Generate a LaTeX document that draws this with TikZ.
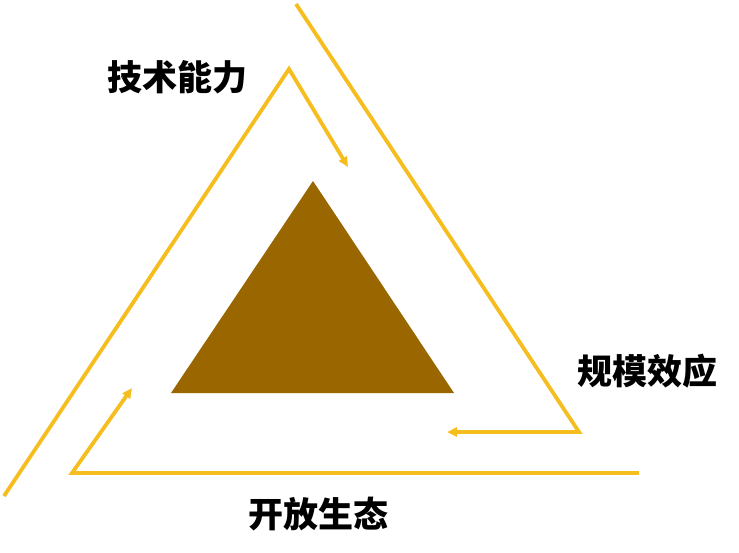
\documentclass[tikz,border=0pt]{standalone}
\usepackage{fontspec}
\newfontfamily\cjk{Noto Sans CJK SC}[BoldFont={Noto Sans CJK SC Black}]
\usetikzlibrary{arrows.meta}
\definecolor{gold}{HTML}{F5BE1E}
\definecolor{bronze}{HTML}{996600}
\tikzset{
  flow/.style={gold, line width=3.8pt, line join=miter},
  label/.style={font=\cjk\bfseries\fontsize{35}{40}\selectfont, text=black, inner sep=0pt}
}

\begin{document}
\begin{tikzpicture}[x=1pt, y=-1pt, >={Triangle[length=10pt,width=9pt]}]
    \useasboundingbox (0,0) rectangle (739,552);

    % Corner points of the three arrows
    \coordinate (techStart) at (4,496);
    \coordinate (techTop) at (289,69);
    \coordinate (techEnd) at (348,167);
    \coordinate (scaleStart) at (296,4);
    \coordinate (scaleCorner) at (579,432);
    \coordinate (scaleEnd) at (447,432);
    \coordinate (openStart) at (639,473);
    \coordinate (openCorner) at (72,473);
    \coordinate (openEnd) at (132,388);

    % Arrows round the centre
    \draw[flow, ->] (techStart) -- (techTop) -- (techEnd);
    \draw[flow, ->] (scaleStart) -- (scaleCorner) -- (scaleEnd);
    \draw[flow, ->] (openStart) -- (openCorner) -- (openEnd);

    % Centre triangle
    \fill[bronze] (313,181) -- (454,393) -- (171,393) -- cycle;

    % Labels
    \node[label] (tech) at (177,77) {技术能力};
    \node[label] (scale) at (647,371) {规模效应};
    \node[label] (open) at (318,514) {开放生态};
\end{tikzpicture}
\end{document}
